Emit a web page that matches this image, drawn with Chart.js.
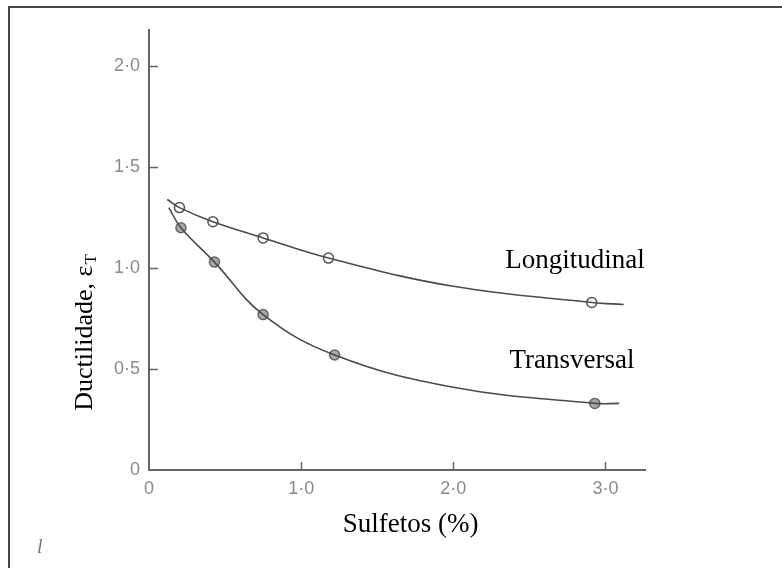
<!DOCTYPE html>
<html>
<head>
<meta charset="utf-8">
<script src="https://cdn.jsdelivr.net/npm/chart.js@4/dist/chart.umd.min.js"></script>
<style>
  html, body { margin: 0; padding: 0; background: #fff; }
  #wrap { width: 782px; height: 568px; position: relative; }
</style>
</head>
<body>
<div id="wrap"><canvas id="ductChart"></canvas></div>
<script>
// Measured points: sulphide content (%) vs ductility
const longX = [0.20, 0.42, 0.75, 1.18, 2.91];
const longY = [1.30, 1.23, 1.15, 1.05, 0.83];
const transX = [0.21, 0.43, 0.75, 1.22, 2.93];
const transY = [1.20, 1.03, 0.77, 0.57, 0.33];

// Fitted curves through the points, line ends included
const longCurveX = [0.12, 0.20, 0.42, 0.75, 1.18, 2.00, 2.91, 3.12];
const longCurveY = [1.34, 1.30, 1.23, 1.15, 1.05, 0.91, 0.83, 0.82];
const transCurveX = [0.13, 0.21, 0.43, 0.75, 1.22, 2.00, 2.93, 3.09];
const transCurveY = [1.30, 1.20, 1.03, 0.77, 0.57, 0.41, 0.33, 0.33];

const xTicks = [0, 1, 2, 3];
const yTicks = [0, 0.5, 1.0, 1.5, 2.0];
const seriesNames = ["Longitudinal", "Transversal"];
const xTitle = "Sulfetos (%)";

const ink = "#4a4a4a";
const axisInk = "#666";
const tickInk = "#8a8a8a";
const serif = "'Liberation Serif', 'Times New Roman', serif";

const toPoints = (xs, ys) => xs.map((x, i) => ({ x: x, y: ys[i] }));

// Format like the printed axis: 1·0, 2·0 ...
const fmt = v => (v === 0 ? "0" : v.toFixed(1).replace(".", "\u00b7"));

// Page frame, inward tick marks, curve names and axis titles
const decorations = {
  id: "decorations",
  beforeDraw(chart) {
    const ctx = chart.ctx;
    ctx.save();
    ctx.fillStyle = "#fff";
    ctx.fillRect(0, 0, chart.width, chart.height);
    ctx.strokeStyle = "#444";
    ctx.lineWidth = 2;
    ctx.beginPath();
    ctx.moveTo(9, chart.height);
    ctx.lineTo(9, 7);
    ctx.lineTo(chart.width, 7);
    ctx.stroke();
    ctx.restore();
  },
  afterDraw(chart) {
    const ctx = chart.ctx;
    const xs = chart.scales.x;
    const ys = chart.scales.y;
    const area = chart.chartArea;
    ctx.save();

    // ticks pointing into the plot
    ctx.strokeStyle = axisInk;
    ctx.lineWidth = 1.5;
    ctx.beginPath();
    ys.ticks.forEach(t => {
      if (t.value === 0) return;
      const py = Math.round(ys.getPixelForValue(t.value)) + 0.5;
      ctx.moveTo(area.left, py);
      ctx.lineTo(area.left + 9, py);
    });
    xs.ticks.forEach(t => {
      if (t.value === 0) return;
      const px = Math.round(xs.getPixelForValue(t.value)) + 0.5;
      ctx.moveTo(px, area.bottom);
      ctx.lineTo(px, area.bottom - 8);
    });
    ctx.stroke();

    // curve names
    ctx.fillStyle = "#000";
    ctx.font = "27px " + serif;
    ctx.textAlign = "center";
    ctx.textBaseline = "alphabetic";
    ctx.fillText(seriesNames[0], xs.getPixelForValue(2.80), ys.getPixelForValue(1.00));
    ctx.fillText(seriesNames[1], xs.getPixelForValue(2.78), ys.getPixelForValue(0.505));

    // x title, set a little right of the axis centre
    ctx.fillText(xTitle, xs.getPixelForValue(1.72), area.bottom + 62);

    // y title: Ductilidade, ε with subscript T
    const main = "Ductilidade, \u03b5";
    const mainFont = "26px " + serif;
    const subFont = "17px " + serif;
    ctx.font = mainFont;
    const w1 = ctx.measureText(main).width;
    ctx.font = subFont;
    const w2 = ctx.measureText("T").width;
    ctx.translate(92, 333);
    ctx.rotate(-Math.PI / 2);
    ctx.textAlign = "left";
    const start = -(w1 + w2) / 2;
    ctx.font = mainFont;
    ctx.fillText(main, start, 0);
    ctx.font = subFont;
    ctx.fillText("T", start + w1 + 1, 4);
    ctx.setTransform(1, 0, 0, 1, 0, 0);

    // stray caption mark at the bottom left
    ctx.fillStyle = "#777";
    ctx.font = "italic 20px " + serif;
    ctx.textAlign = "left";
    ctx.fillText("l", 37, 553);
    ctx.restore();
  }
};

new Chart(document.getElementById("ductChart"), {
  type: "scatter",
  data: {
    datasets: [
      {
        label: seriesNames[0] + " curve",
        data: toPoints(longCurveX, longCurveY),
        showLine: true,
        tension: 0.4,
        borderColor: ink,
        borderWidth: 1.6,
        pointRadius: 0
      },
      {
        label: seriesNames[1] + " curve",
        data: toPoints(transCurveX, transCurveY),
        showLine: true,
        tension: 0.4,
        borderColor: ink,
        borderWidth: 1.6,
        pointRadius: 0
      },
      {
        label: seriesNames[0],
        data: toPoints(longX, longY),
        pointRadius: 5,
        pointBackgroundColor: "#fff",
        pointBorderColor: "#555",
        pointBorderWidth: 1.5
      },
      {
        label: seriesNames[1],
        data: toPoints(transX, transY),
        pointRadius: 5,
        pointBackgroundColor: "#a9a9a9",
        pointBorderColor: "#666",
        pointBorderWidth: 1.5
      }
    ]
  },
  options: {
    responsive: true,
    maintainAspectRatio: false,
    animation: false,
    layout: { padding: { top: 30, right: 137, left: 0, bottom: 0 } },
    plugins: {
      legend: { display: false },
      tooltip: { enabled: false }
    },
    scales: {
      x: {
        type: "linear",
        min: 0,
        max: 3.26,
        afterBuildTicks: s => { s.ticks = xTicks.map(v => ({ value: v })); },
        afterFit: s => { s.height = 98; },
        grid: { display: false, drawTicks: false },
        border: { display: true, color: axisInk, width: 2 },
        ticks: {
          padding: 8,
          color: tickInk,
          font: { family: "'Liberation Sans', Arial, sans-serif", size: 18 },
          callback: v => fmt(v)
        }
      },
      y: {
        type: "linear",
        min: 0,
        max: 2.18,
        afterBuildTicks: s => { s.ticks = yTicks.map(v => ({ value: v })); },
        afterFit: s => { s.width = 149; },
        grid: { display: false, drawTicks: false },
        border: { display: true, color: axisInk, width: 2 },
        ticks: {
          padding: 9,
          color: tickInk,
          font: { family: "'Liberation Sans', Arial, sans-serif", size: 18 },
          callback: v => fmt(v)
        }
      }
    }
  },
  plugins: [decorations]
});
</script>
</body>
</html>
